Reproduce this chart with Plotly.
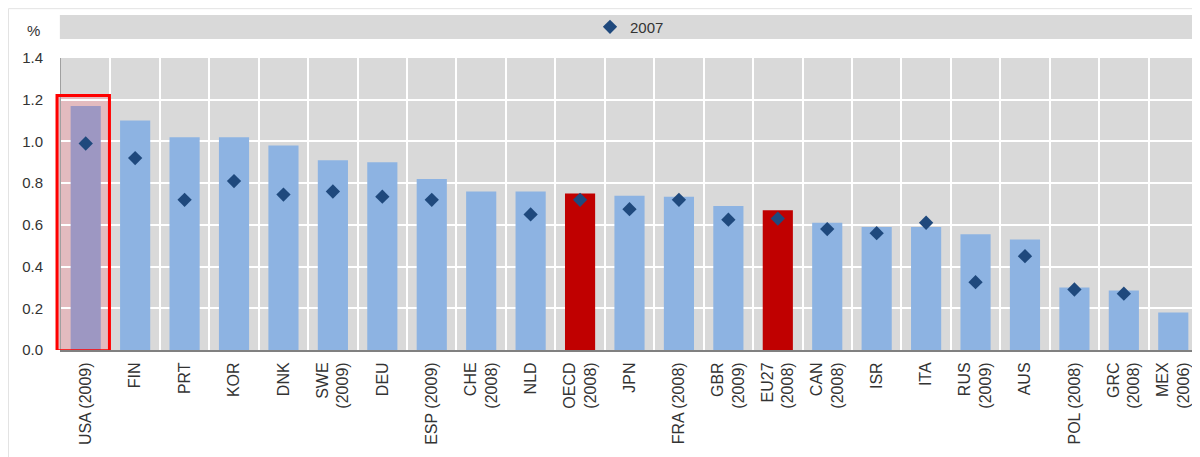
import plotly.graph_objects as go

# countries, ranked by latest value
countries = ["USA (2009)", "FIN", "PRT", "KOR", "DNK", "SWE<br>(2009)", "DEU", "ESP (2009)",
             "CHE<br>(2008)", "NLD", "OECD<br>(2008)", "JPN", "FRA (2008)", "GBR<br>(2009)",
             "EU27<br>(2008)", "CAN<br>(2008)", "ISR", "ITA", "RUS<br>(2009)", "AUS",
             "POL (2008)", "GRC<br>(2008)", "MEX<br>(2006)"]
latest = [1.17, 1.10, 1.02, 1.02, 0.98, 0.91, 0.90, 0.82, 0.76, 0.76, 0.75, 0.74, 0.735,
          0.69, 0.67, 0.61, 0.59, 0.59, 0.555, 0.53, 0.30, 0.285, 0.18]
y2007 = [0.99, 0.92, 0.72, 0.81, 0.745, 0.76, 0.735, 0.72, None, 0.65, 0.72, 0.675, 0.72,
         0.625, 0.63, 0.58, 0.56, 0.61, 0.325, 0.45, 0.29, 0.27, None]

aggregates = ["OECD<br>(2008)", "EU27<br>(2008)"]
highlight = "USA (2009)"

bar_colors = []
for c in countries:
    if c in aggregates:
        bar_colors.append("#C00000")
    elif c == highlight:
        bar_colors.append("#9D97C2")
    else:
        bar_colors.append("#8DB3E2")

fig = go.Figure()
fig.add_trace(go.Bar(x=countries, y=latest, marker_color=bar_colors, marker_line_width=0,
                     showlegend=False, name="latest"))
fig.add_trace(go.Scatter(x=countries, y=y2007, mode="markers", name="2007",
                         marker=dict(symbol="diamond", size=11, color="#1F497D")))

# highlight box around the USA (paper x so it is not clipped at the left edge)
n = len(countries)
hi = countries.index(highlight)
bx0 = hi / n - 0.0035
bx1 = (hi + 0.98) / n
fig.add_shape(type="rect", xref="paper", yref="y", x0=bx0, x1=bx1, y0=0,
              y1=latest[hi] + 0.05, fillcolor="#E3BBBF", line_width=0, layer="below")
fig.add_shape(type="rect", xref="paper", yref="y", x0=bx0, x1=bx1, y0=-0.003,
              y1=latest[hi] + 0.05, line=dict(color="#FF0000", width=3), layer="above")

# legend strip and frame
fig.add_shape(type="rect", xref="paper", yref="paper", x0=-0.001, x1=1.01, y0=1.065, y1=1.147,
              fillcolor="#D9D9D9", line_width=0, layer="below")
fig.add_shape(type="rect", xref="paper", yref="paper", x0=-0.0462, x1=1.05, y0=-0.4, y1=1.169,
              fillcolor="rgba(0,0,0,0)", line=dict(color="#E3E3E3", width=1))

fig.add_annotation(text="%", xref="paper", yref="paper", x=-0.0246, y=1.093, showarrow=False,
                   xanchor="center", yanchor="middle", font=dict(size=15, color="#333333"))

fig.update_layout(
    width=1192, height=449,
    margin=dict(l=53, r=2, t=50, b=107, autoexpand=False),
    paper_bgcolor="white", plot_bgcolor="#D9D9D9",
    font=dict(family="Liberation Sans, Arial, sans-serif", color="#333333"),
    bargap=0.39,
    legend=dict(orientation="h", x=0.5, xanchor="center", y=1.106, yanchor="middle",
                bgcolor="rgba(0,0,0,0)", font=dict(size=15), itemwidth=30),
)
fig.update_xaxes(type="category", range=[-0.5, n - 0.5], tickson="boundaries",
                 showgrid=True, gridcolor="white", gridwidth=2, tickangle=-90,
                 tickfont=dict(size=16), ticks="", ticklabelstandoff=4,
                 showline=True, linecolor="#808080", linewidth=2)
fig.update_yaxes(range=[0, 1.4], dtick=0.2, tickformat=".1f", showgrid=True,
                 gridcolor="white", gridwidth=2, tickfont=dict(size=15), zeroline=False,
                 showline=True, linecolor="#A0A0A0", linewidth=1, ticks="",
                 ticklabelstandoff=14)

fig.write_html("out.html")
